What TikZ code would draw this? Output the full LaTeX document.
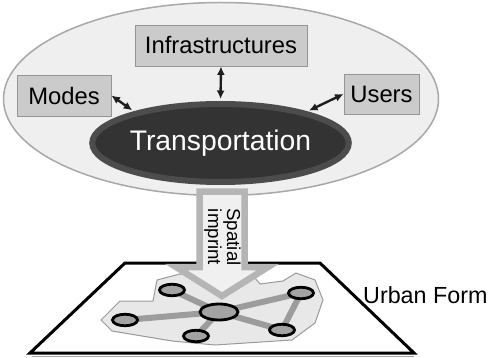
\documentclass[tikz,border=0pt]{standalone}
\usepackage{fontspec}
\setmainfont{Liberation Sans}
\usetikzlibrary{shapes.geometric,arrows.meta}
\definecolor{ellfill}{HTML}{EFEFEF}
\definecolor{ellline}{HTML}{A8A8A8}
\definecolor{boxfill}{HTML}{CBCBCB}
\definecolor{boxline}{HTML}{959595}
\definecolor{transfill}{HTML}{333333}
\definecolor{transline}{HTML}{4C4C4C}
\definecolor{arrline}{HTML}{B5B5B5}
\definecolor{arrfill}{HTML}{F0F0F0}
\definecolor{cityfill}{HTML}{E8E8E8}
\definecolor{cityline}{HTML}{9A9A9A}
\definecolor{linkgray}{HTML}{9C9C9C}
\definecolor{nodegray}{HTML}{A3A3A3}
\definecolor{darkarr}{HTML}{1E1E1E}
\tikzset{
  labelbox/.style={draw=boxline, fill=boxfill, line width=0.9pt, inner sep=0pt,
    font=\fontsize{23.8}{27}\selectfont},
  biglink/.style={{Latex[length=8.5pt,width=8pt]}-{Latex[length=8.5pt,width=8pt]}, line width=2.4pt, draw=darkarr},
  citynode/.style={ellipse, draw=black, fill=nodegray, line width=2.8pt, inner sep=0pt,
    minimum width=25pt, minimum height=11.5pt},
  hubnode/.style={citynode, minimum width=38pt, minimum height=16pt},
  citylink/.style={draw=linkgray, line width=6pt},
}
\begin{document}
\begin{tikzpicture}[x=1pt,y=-1pt]
\useasboundingbox (0,0) rectangle (489,358);
% outer ellipse
\node[ellipse, draw=ellline, fill=ellfill, line width=1.5pt, inner sep=0pt,
  minimum width=435pt, minimum height=193pt] (sys) at (221,99) {};
% boxes
\node[labelbox, minimum width=172pt, minimum height=41pt] (infra) at (221,45.5) {Infrastructures};
\node[labelbox, minimum width=94pt, minimum height=41pt] (modes) at (64,95.5) {Modes};
\node[labelbox, minimum width=75pt, minimum height=40pt] (users) at (381.5,94) {Users};
% transportation
\node[ellipse, draw=transline, fill=transfill, line width=6pt, inner sep=0pt,
  minimum width=239pt, minimum height=78pt, text=white,
  font=\fontsize{28.3}{30}\selectfont] (trans) at (220.5,143) {Transportation};
% links
\draw[biglink, shorten >=2pt] (infra.south) -- (trans.north);
\draw[biglink, shorten >=2pt] (modes.east) -- (trans.160);
\draw[biglink, shorten >=2pt] (users.west) -- (trans.20);
% plane
\coordinate (p1) at (125,263);
\coordinate (p2) at (320,263);
\coordinate (p3) at (414,353);
\coordinate (p4) at (30,353);
\draw[line width=3pt, line join=miter] (p1) -- (p2) -- (p3) -- (p4) -- cycle;
\draw[line width=1pt, draw=black!35] (32,356.8) -- (414,356.8);
% urban area
\draw[fill=cityfill, draw=cityline, line width=1pt]
  (101,320) -- (120,301) -- (153,301) -- (157,280) -- (180,274) -- (225,280)
  -- (255,278) -- (260,284) -- (283,281) -- (296,273) -- (315,280) -- (323,300)
  -- (315,323) -- (292,340) -- (215,345) -- (172,341) -- (112,331) -- cycle;
% big arrow
\draw[draw=arrline, fill=arrfill, line width=6.5pt, line join=miter]
  (199.5,191.5) -- (244.5,191.5) -- (244.5,267) -- (268,267) -- (222,296)
  -- (176,267) -- (199.5,267) -- cycle;
\node[rotate=-90, align=center, font=\fontsize{18.7}{19}\selectfont, inner sep=0pt] (imprint) at (222.5,237) {Spatial\\imprint};
% network
\coordinate (kc) at (219,312);
\coordinate (kul) at (172,290);
\coordinate (kl) at (125,320);
\coordinate (kb) at (196,336);
\coordinate (krt) at (301,293);
\coordinate (krb) at (282,330);
\draw[citylink] (kc) -- (kul);
\draw[citylink] (kc) -- (kl);
\draw[citylink] (kc) -- (kb);
\draw[citylink] (kc) -- (krt);
\draw[citylink] (kc) -- (krb);
\draw[citylink] (krt) -- (krb);
\node[hubnode] (c) at (kc) {};
\node[citynode] (nul) at (kul) {};
\node[citynode] (nl) at (kl) {};
\node[citynode] (nb) at (kb) {};
\node[citynode] (nrt) at (krt) {};
\node[citynode] (nrb) at (krb) {};
% label
\node[font=\fontsize{23.3}{27}\selectfont, inner sep=0pt, anchor=west] (uf) at (363,295) {Urban Form};
\end{tikzpicture}
\end{document}
